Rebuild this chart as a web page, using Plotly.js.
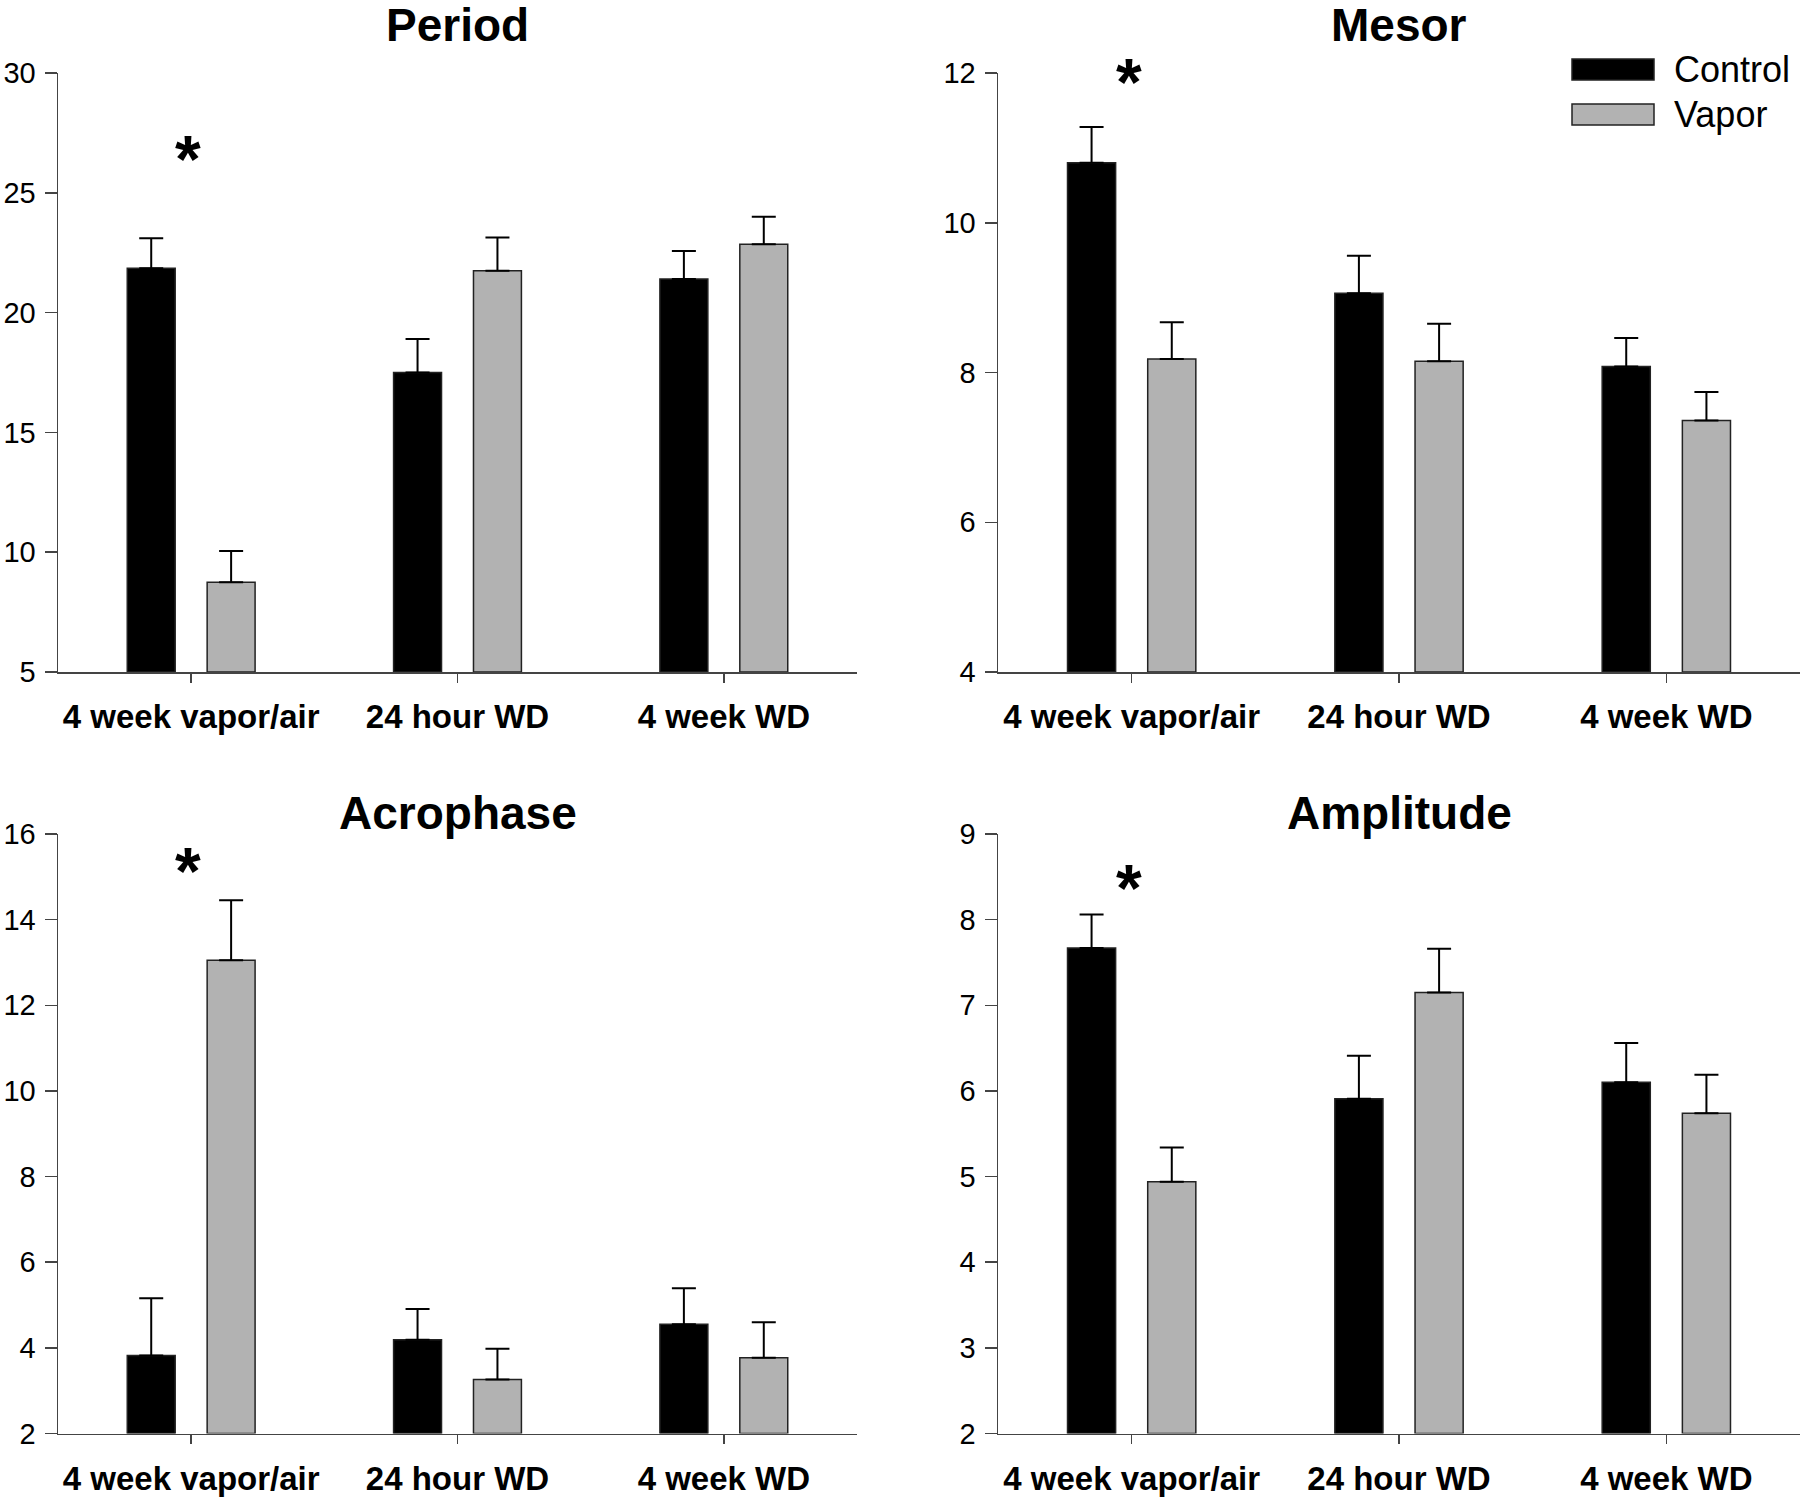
<!DOCTYPE html>
<html>
<head>
<meta charset="utf-8">
<script src="https://cdn.plot.ly/plotly-3.0.1.min.js"></script>
<style>
  body { margin: 0; background: #fff; }
  #chart { width: 1800px; height: 1498px; }
</style>
</head>
<body>
<div id="chart"></div>
<script>
// categories and group names
var categories = ['4 week vapor/air', '24 hour WD', '4 week WD'];
var groups = ['Control', 'Vapor'];
var panelTitles = ['Period', 'Mesor', 'Acrophase', 'Amplitude'];

// values (mean and upper SEM)
var periodControl = [21.85, 17.5, 21.4];
var periodControlErr = [1.25, 1.4, 1.17];
var periodVapor = [8.75, 21.75, 22.85];
var periodVaporErr = [1.3, 1.38, 1.15];

var mesorControl = [10.8, 9.06, 8.08];
var mesorControlErr = [0.48, 0.5, 0.38];
var mesorVapor = [8.18, 8.15, 7.36];
var mesorVaporErr = [0.49, 0.5, 0.38];

var acroControl = [3.82, 4.19, 4.55];
var acroControlErr = [1.34, 0.72, 0.84];
var acroVapor = [13.05, 3.26, 3.77];
var acroVaporErr = [1.4, 0.72, 0.83];

var ampControl = [7.67, 5.91, 6.1];
var ampControlErr = [0.39, 0.5, 0.46];
var ampVapor = [4.94, 7.15, 5.74];
var ampVaporErr = [0.4, 0.51, 0.45];

// significance marks: panel index, category index, y value
var starPanel = [0, 1, 2, 3];
var starCat = [0, 0, 0, 0];
var starY = [26.8, 12.0, 15.35, 8.47];

var yRanges = [[5, 30], [4, 12], [2, 16], [2, 9]];
var yDticks = [5, 2, 2, 1];

var controlData = [periodControl, mesorControl, acroControl, ampControl];
var controlErr = [periodControlErr, mesorControlErr, acroControlErr, ampControlErr];
var vaporData = [periodVapor, mesorVapor, acroVapor, ampVapor];
var vaporErr = [periodVaporErr, mesorVaporErr, acroVaporErr, ampVaporErr];

var W = 1800, H = 1498;
var xDomains = [[58 / W, 857 / W], [998 / W, 1]];
var yDomains = [[1 - 672 / H, 1 - 73 / H], [1 - 1433.5 / H, 1 - 834 / H]];

var barColors = ['#000000', '#b2b2b2'];
var barW = 0.18;
var offsets = [-0.24, 0.06];

var data = [];
var layout = {
  width: W, height: H,
  margin: {l: 0, r: 0, t: 0, b: 0},
  paper_bgcolor: '#fff', plot_bgcolor: '#fff',
  showlegend: false,
  barmode: 'overlay',
  font: {family: 'Liberation Sans, Arial, sans-serif', color: '#000'},
  annotations: [],
  shapes: []
};

for (var p = 0; p < 4; p++) {
  var sfx = p === 0 ? '' : String(p + 1);
  var col = p % 2, row = Math.floor(p / 2);
  var series = [[controlData[p], controlErr[p]], [vaporData[p], vaporErr[p]]];
  for (var g = 0; g < 2; g++) {
    var base = yRanges[p][0];
    data.push({
      type: 'bar',
      name: groups[g],
      x: categories,
      // bars start at the axis minimum, so the height is value - minimum
      y: series[g][0].map(function (v) { return v - base; }),
      base: base,
      width: barW,
      offset: offsets[g],
      xaxis: 'x' + sfx,
      yaxis: 'y' + sfx,
      marker: {color: barColors[g], line: {color: '#222', width: 1.5}},
      error_y: {
        type: 'data', symmetric: false,
        array: series[g][1],
        arrayminus: [0, 0, 0],
        color: '#000', thickness: 2, width: 12
      }
    });
  }

  layout['xaxis' + sfx] = {
    domain: xDomains[col],
    anchor: 'y' + sfx,
    type: 'category',
    range: [-0.5, 2.5],
    showline: true, linecolor: '#444', linewidth: 1.5,
    ticks: 'outside', ticklen: 9, tickwidth: 1.5, tickcolor: '#444',
    ticklabelstandoff: 6,
    tickfont: {size: 33, weight: 'bold', color: '#000'},
    showgrid: false, zeroline: false, fixedrange: true
  };
  layout['yaxis' + sfx] = {
    domain: yDomains[row],
    anchor: 'x' + sfx,
    range: yRanges[p],
    dtick: yDticks[p],
    tick0: yRanges[p][0],
    showline: true, linecolor: '#444', linewidth: 1.5,
    ticks: 'outside', ticklen: 12, tickwidth: 1.5, tickcolor: '#444',
    ticklabelstandoff: 3,
    tickfont: {size: 29, color: '#000'},
    showgrid: false, zeroline: false, fixedrange: true
  };

  layout.annotations.push({
    xref: 'paper', yref: 'paper',
    x: (xDomains[col][0] + xDomains[col][1]) / 2,
    y: row === 0 ? 1 - 25 / H : 1 - 813 / H,
    xanchor: 'center', yanchor: 'middle',
    text: panelTitles[p], showarrow: false, borderpad: 0,
    font: {size: 46, weight: 'bold', color: '#000'}
  });
}

// significance asterisks
for (var s = 0; s < starPanel.length; s++) {
  var sf = starPanel[s] === 0 ? '' : String(starPanel[s] + 1);
  layout.annotations.push({
    xref: 'x' + sf, yref: 'y' + sf,
    x: categories[starCat[s]], y: starY[s],
    text: '*', showarrow: false,
    xanchor: 'center', yanchor: 'middle', yshift: -9, xshift: -3,
    font: {size: 66, weight: 'bold', color: '#000'}
  });
}

// legend drawn in the Mesor panel corner
var legTop = [59, 104];
for (var g2 = 0; g2 < 2; g2++) {
  layout.shapes.push({
    type: 'rect', xref: 'paper', yref: 'paper',
    x0: 1572 / W, x1: 1654 / W,
    y0: 1 - (legTop[g2] + 21) / H, y1: 1 - legTop[g2] / H,
    fillcolor: barColors[g2], line: {color: '#222', width: 1.5}
  });
  layout.annotations.push({
    xref: 'paper', yref: 'paper',
    x: 1672 / W, y: 1 - (legTop[g2] + 10.5) / H,
    xanchor: 'left', yanchor: 'middle',
    text: groups[g2], showarrow: false,
    font: {size: 36, color: '#000'}
  });
}

Plotly.newPlot('chart', data, layout, {staticPlot: true});
</script>
</body>
</html>
